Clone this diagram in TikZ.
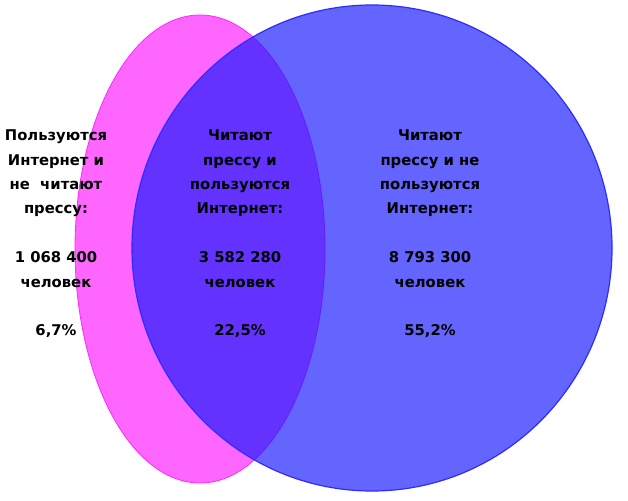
\documentclass[tikz,border=0pt]{standalone}
\usepackage{fontspec}
\setmainfont{DejaVu Sans}
\begin{document}
\begin{tikzpicture}[x=1pt,y=-1pt]
\definecolor{pinkfill}{RGB}{255,102,255}
\definecolor{pinkline}{RGB}{255,40,255}
\definecolor{bluefill}{RGB}{25,25,255}
\definecolor{blueline}{RGB}{45,45,255}
\tikzset{
  label/.style={font=\bfseries\fontsize{14.8pt}{24.4pt}\selectfont, align=center, text=black, inner sep=0pt},
}
\useasboundingbox (0,0) rectangle (628,500);
\fill[white] (0,0) rectangle (628,500);
% pink ellipse (Internet users)
\path[fill=pinkfill, draw=pinkline, line width=0.8pt] (200,249) ellipse [x radius=125, y radius=234];
% blue circle (press readers)
\path[fill=bluefill, fill opacity=0.67, draw=blueline, line width=1.2pt] (372,248) ellipse [x radius=240, y radius=243];
% texts
\node[label] (left) at (56,234) {Пользуются\\Интернет и\\не~ читают\\прессу:\\[24.4pt]1 068 400\\человек\\[24.4pt]6,7\%};
\node[label] (mid) at (240,234) {Читают\\прессу и\\пользуются\\Интернет:\\[24.4pt]3 582 280\\человек\\[24.4pt]22,5\%};
\node[label] (right) at (430,234) {Читают\\прессу и не\\пользуются\\Интернет:\\[24.4pt]8 793 300\\человек\\[24.4pt]55,2\%};
\end{tikzpicture}
\end{document}
